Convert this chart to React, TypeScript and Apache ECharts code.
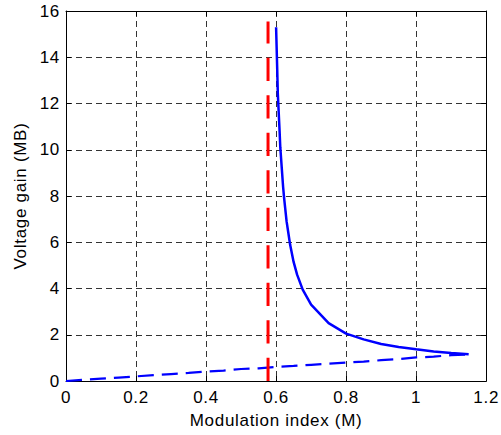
import React, { useEffect, useRef } from "react";
import * as echarts from "echarts";

const xTicks = [0, 0.2, 0.4, 0.6, 0.8, 1, 1.2];
const yTicks = [0, 2, 4, 6, 8, 10, 12, 14, 16];

// Voltage gain (solid blue)
const gainM = [0.6, 0.603, 0.605, 0.61, 0.612, 0.62, 0.623, 0.63, 0.635, 0.64, 0.65, 0.66, 0.676, 0.7, 0.75, 0.8, 0.85, 0.9, 0.95, 1.0, 1.05, 1.1, 1.15];
const gainG = [15.3, 13.6, 12.4, 10.8, 10.1, 8.4, 7.9, 6.9, 6.4, 5.9, 5.15, 4.6, 3.95, 3.3, 2.5, 2.05, 1.8, 1.6, 1.47, 1.37, 1.28, 1.21, 1.16];

// Dashed blue line
const lineM = [0, 0.05, 0.1, 0.15, 0.2, 0.25, 0.3, 0.35, 0.4, 0.45, 0.5, 0.55, 0.6, 0.65, 0.7, 0.75, 0.8, 0.85, 0.9, 0.95, 1.0, 1.05, 1.1, 1.15];
const lineG = [0, 0.05, 0.1, 0.15, 0.2, 0.25, 0.3, 0.35, 0.41, 0.45, 0.52, 0.55, 0.61, 0.65, 0.7, 0.75, 0.8, 0.84, 0.9, 0.95, 1.02, 1.05, 1.12, 1.15];

// Red limit line
const limitM = [0.577, 0.577];
const limitG = [0, 15.55];

const FONT = "'Liberation Sans', Arial, sans-serif";
const FS = 17;

export default function App() {
  const ref = useRef<HTMLDivElement>(null);
  useEffect(() => {
    if (!ref.current) return;
    const chart = echarts.init(ref.current, null, { renderer: "svg" });
    const zip = (a: number[], b: number[]) => a.map((v, i) => [v, b[i]]);
    const gridLine = { show: true, lineStyle: { color: "#333", width: 1, type: [6, 4] } };
    chart.setOption({
      animation: false,
      backgroundColor: "#fff",
      grid: { left: 66, right: 12, top: 11, bottom: 54, containLabel: false },
      xAxis: [
        {
          type: "value",
          min: 0,
          max: 1.2,
          interval: 0.2,
          position: "bottom",
          name: "Modulation index (M)",
          nameLocation: "middle",
          nameGap: 31,
          nameTextStyle: { fontFamily: FONT, fontSize: FS, color: "#000" },
          axisLine: { show: true, onZero: false, lineStyle: { color: "#000", width: 1 } },
          axisTick: { show: true, inside: true, length: 5, lineStyle: { color: "#000" } },
          axisLabel: {
            fontFamily: FONT,
            fontSize: FS,
            color: "#000",
            margin: 8,
            formatter: (v: number) => {
              const t = xTicks.find((x) => Math.abs(x - v) < 1e-9);
              return t === undefined ? "" : String(t);
            },
          },
          splitLine: gridLine,
        },
        {
          type: "value",
          min: 0,
          max: 1.2,
          interval: 0.2,
          position: "top",
          axisLine: { show: true, onZero: false, lineStyle: { color: "#000", width: 1 } },
          axisTick: { show: true, inside: true, length: 5, lineStyle: { color: "#000" } },
          axisLabel: { show: false },
          splitLine: { show: false },
        },
      ],
      yAxis: [
        {
          type: "value",
          min: 0,
          max: 16,
          interval: 2,
          position: "left",
          name: "Voltage gain (MB)",
          nameLocation: "middle",
          nameGap: 37,
          nameTextStyle: { fontFamily: FONT, fontSize: FS, color: "#000" },
          axisLine: { show: true, onZero: false, lineStyle: { color: "#000", width: 1 } },
          axisTick: { show: true, inside: true, length: 5, lineStyle: { color: "#000" } },
          axisLabel: {
            fontFamily: FONT,
            fontSize: FS,
            color: "#000",
            margin: 6,
            formatter: (v: number) => {
              const t = yTicks.find((y) => Math.abs(y - v) < 1e-9);
              return t === undefined ? "" : String(t);
            },
          },
          splitLine: gridLine,
        },
        {
          type: "value",
          min: 0,
          max: 16,
          interval: 2,
          position: "right",
          axisLine: { show: true, onZero: false, lineStyle: { color: "#000", width: 1 } },
          axisTick: { show: true, inside: true, length: 5, lineStyle: { color: "#000" } },
          axisLabel: { show: false },
          splitLine: { show: false },
        },
      ],
      series: [
        {
          type: "line",
          data: zip(lineM, lineG),
          showSymbol: false,
          symbol: "none",
          lineStyle: { color: "#0000ff", width: 2.2, type: [16, 8] },
          z: 3,
        },
        {
          type: "line",
          data: zip(gainM, gainG),
          showSymbol: false,
          symbol: "none",
          lineStyle: { color: "#0000ff", width: 2.5, type: "solid" },
          z: 4,
        },
        {
          type: "line",
          data: zip(limitM, limitG),
          showSymbol: false,
          symbol: "none",
          lineStyle: { color: "#ff0000", width: 3, type: [23.3, 14.2] },
          z: 5,
        },
      ],
    });
    return () => chart.dispose();
  }, []);
  return (
    <div
      ref={ref}
      style={{ position: "absolute", left: 0, top: 0, width: 501, height: 435, letterSpacing: "0.7px" }}
    />
  );
}
